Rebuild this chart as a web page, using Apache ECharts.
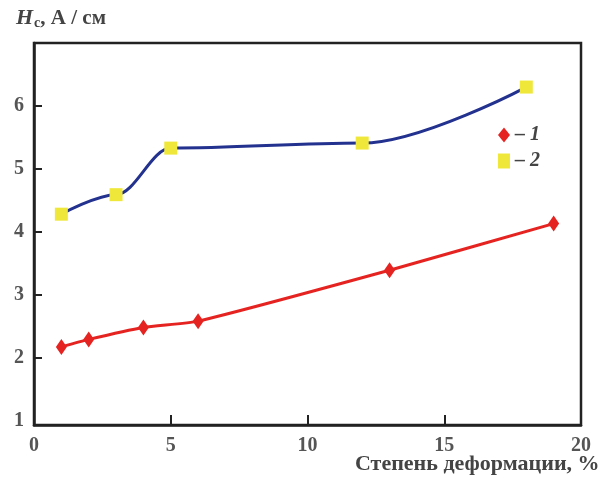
<!DOCTYPE html>
<html><head><meta charset="utf-8">
<script src="https://cdn.jsdelivr.net/npm/echarts@6/dist/echarts.min.js"></script>
<style>html,body{margin:0;padding:0;background:#fff}#c{width:600px;height:481px}</style>
</head><body><div id="c"></div>
<script>
const xTicks = [0, 5, 10, 15, 20];
const yTicks = [1, 2, 3, 4, 5, 6];
const s1x = [1, 2, 4, 6, 13, 19];
const s1y = [2.17, 2.29, 2.48, 2.58, 3.39, 4.13];
const s2x = [1, 3, 5, 12, 18];
const s2y = [4.28, 4.59, 5.33, 5.41, 6.3];
const s1Name = '1';
const s2Name = '2';

const font = '"Liberation Serif", "DejaVu Serif", serif';
const chart = echarts.init(document.getElementById('c'));
chart.setOption({
  backgroundColor: '#fff',
  animation: false,
  title: {
    left: 11, top: 2,
    text: '{h|H}{s|c}{n|, А / см}',
    textStyle: {
      rich: {
        h: {fontFamily: font, fontStyle: 'italic', fontWeight: 'bold', fontSize: 22, color: '#444'},
        s: {fontFamily: font, fontWeight: 'bold', fontSize: 14, color: '#444', verticalAlign: 'bottom', padding: [9, 0, 0, 1]},
        n: {fontFamily: font, fontWeight: 'bold', fontSize: 21, color: '#444'}
      }
    }
  },
  graphic: [{
    type: 'text', left: 355, top: 453,
    style: {text: 'Степень деформации, %', font: 'bold 22px ' + font, fill: '#444'}
  }],
  legend: {
    orient: 'vertical', left: 493, top: 120, itemGap: 6,
    itemWidth: 12, itemHeight: 15,
    lineStyle: {opacity: 0},
    data: [{name: s1Name, icon: 'diamond'}, {name: s2Name, icon: 'rect'}],
    formatter: n => '– ' + n,
    textStyle: {fontFamily: font, fontStyle: 'italic', fontWeight: 'bold', fontSize: 20, color: '#444'}
  },
  grid: {left: 34, right: 19, top: 43, bottom: 56, show: true, borderColor: '#222', borderWidth: 2.5, containLabel: false},
  xAxis: {
    type: 'value', min: 0, max: 20, interval: 5,
    axisLine: {show: true, lineStyle: {color: '#222', width: 2.5}},
    axisTick: {show: true, inside: true, length: 10, lineStyle: {color: '#222', width: 2}, customValues: [5, 10, 15]},
    axisLabel: {customValues: xTicks, margin: 11, fontFamily: font, fontWeight: 'bold', fontSize: 20, color: '#555'},
    splitLine: {show: false}
  },
  yAxis: {
    type: 'value', min: 0.93, max: 7,
    axisLine: {show: true, lineStyle: {color: '#222', width: 2.5}},
    axisTick: {show: true, inside: true, length: 8, lineStyle: {color: '#222', width: 2}, customValues: [2, 3, 4, 5, 6]},
    axisLabel: {customValues: yTicks, margin: 10, fontFamily: font, fontWeight: 'bold', fontSize: 20, color: '#555'},
    splitLine: {show: false}
  },
  series: [
    {
      name: s1Name, type: 'line', smooth: 0.2,
      data: s1x.map((x, i) => [x, s1y[i]]),
      symbol: 'diamond', symbolSize: [11, 16],
      itemStyle: {color: '#e52421'},
      lineStyle: {color: '#e52421', width: 3}
    },
    {
      name: s2Name, type: 'line', smooth: 0.35, smoothMonotone: 'x',
      data: s2x.map((x, i) => [x, s2y[i]]),
      symbol: 'rect', symbolSize: 13,
      itemStyle: {color: '#efe83a'},
      lineStyle: {color: '#23318f', width: 3}
    }
  ]
});
</script></body></html>
